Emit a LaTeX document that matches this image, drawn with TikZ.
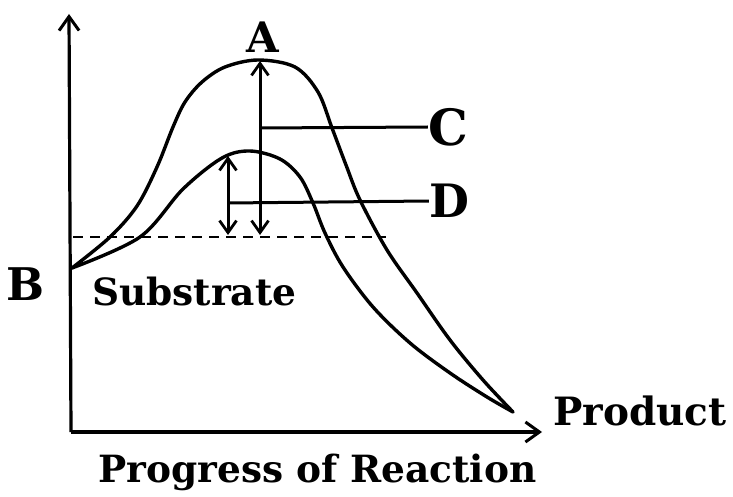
\documentclass[tikz,border=0pt]{standalone}
\usepackage{fontspec}
\setmainfont{DejaVu Serif}
\usetikzlibrary{arrows.meta}
\tikzset{
  curve/.style={line width=3.4pt, line cap=round, line join=round},
  axis/.style={line width=3.2pt, -{Straight Barb[length=14pt,width=20pt,line width=3pt]}},
  dbl/.style={line width=3pt, {Straight Barb[length=12pt,width=17pt,line width=2.8pt]}-{Straight Barb[length=12pt,width=17pt,line width=2.8pt]}},
  lead/.style={line width=3pt},
  lbl/.style={inner sep=0pt, font=\bfseries},
}
\begin{document}
\begin{tikzpicture}[x=1pt,y=-1pt]
\useasboundingbox (0,0) rectangle (733,497);
% axes
\coordinate (O) at (71,432);
\coordinate (Ytop) at (69,14);
\coordinate (Xend) at (542,432);
\draw[axis] (O) -- (Ytop);
\draw[axis] (O) -- (Xend);
% dashed substrate level
\coordinate (dL) at (73,237);
\coordinate (dR) at (386,237);
\draw[line width=2.8pt, dash pattern=on 10pt off 7pt] (dL) -- (dR);
% curves
\draw[curve] plot[smooth, tension=0.55] coordinates {(72,268) (110,237) (137,206) (157,167) (173,127) (185,102) (202,82) (225,67) (258,60) (295,67) (318,92) (332,128) (346,165) (360,200) (387,250) (417,293) (450,340) (483,380) (513,412)};
\draw[curve] plot[smooth, tension=0.55] coordinates {(72,268) (140,237) (183,189) (222,158) (250,151) (280,159) (300,177) (313,203) (325,233) (343,267) (373,307) (410,343) (450,373) (487,397) (513,412)};
% arrows
\coordinate (bigT) at (260,61);
\coordinate (bigB) at (260,235);
\coordinate (smT) at (228,156);
\coordinate (smB) at (228,235);
\draw[dbl] (bigB) -- (bigT);
\draw[dbl] (smB) -- (smT);
\coordinate (cS) at (260,128);
\coordinate (dS) at (228,203);
% labels
\node[lbl, font=\bfseries\fontsize{42}{42}\selectfont] (A) at (263,37) {A};
\node[lbl, font=\bfseries\fontsize{50}{50}\selectfont] (C) at (448,127) {C};
\node[lbl, font=\bfseries\fontsize{46}{46}\selectfont] (D) at (449,201) {D};
\node[lbl, font=\bfseries\fontsize{45}{45}\selectfont] (B) at (26,284) {B};
\draw[lead] (cS) -- (C.west);
\draw[lead] (dS) -- (D.west);
\node[lbl, font=\bfseries\fontsize{37.5}{37.5}\selectfont, anchor=base west] (S) at (92,305) {Substrate};
\node[lbl, font=\bfseries\fontsize{39}{39}\selectfont, anchor=base west] (P) at (553,425) {Product};
\node[lbl, font=\bfseries\fontsize{37.5}{37.5}\selectfont, anchor=base west] (R) at (98,482) {Progress of Reaction};
\end{tikzpicture}
\end{document}
